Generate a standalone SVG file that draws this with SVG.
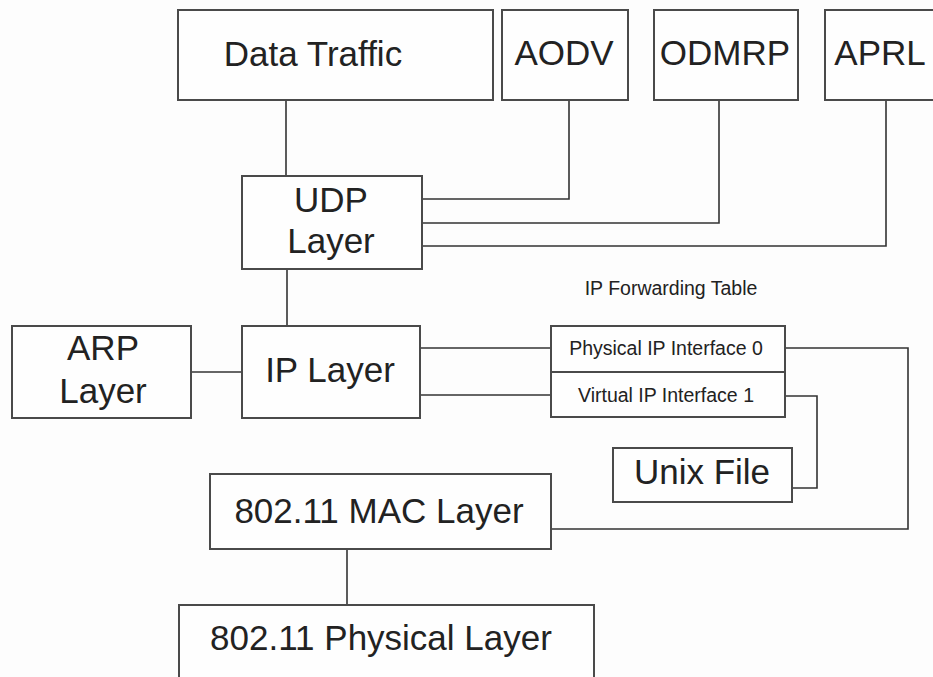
<svg xmlns="http://www.w3.org/2000/svg" width="933" height="677" viewBox="0 0 933 677">
<style>
.box{fill:#fefefe;stroke:#4a4a4a;stroke-width:2}
.ln{fill:none;stroke:#333;stroke-width:1.6}
text{font-family:"Liberation Sans",Arial,sans-serif;fill:#222;text-anchor:middle}
.big{font-size:35px}
.sm{font-size:19.5px}
</style>
<rect width="933" height="677" fill="#fdfdfd"/>
<g id="connectors">
<path class="ln" d="M286 100V176"/>
<path class="ln" d="M569 100V199H422"/>
<path class="ln" d="M719 100V223H422"/>
<path class="ln" d="M886 100V246H422"/>
<path class="ln" d="M287 269V326"/>
<path class="ln" d="M191 372H242"/>
<path class="ln" d="M420 348H551"/>
<path class="ln" d="M420 395H551"/>
<path class="ln" d="M785 348H908V529H551"/>
<path class="ln" d="M785 396H817V488H792"/>
<path class="ln" d="M347 549V605"/>
</g>
<g id="data-traffic"><rect class="box" x="178" y="10" width="315" height="90"/><text class="big" x="313" y="66">Data Traffic</text></g>
<g id="aodv"><rect class="box" x="502" y="10" width="126" height="90"/><text class="big" x="564" y="65">AODV</text></g>
<g id="odmrp"><rect class="box" x="654" y="10" width="144" height="90"/><text class="big" x="725" y="65">ODMRP</text></g>
<g id="aprl"><rect class="box" x="825" y="10" width="130" height="90"/><text class="big" x="880" y="65">APRL</text></g>
<g id="udp"><rect class="box" x="242" y="176" width="180" height="93"/><text class="big" x="331" y="212">UDP</text><text class="big" x="331" y="253">Layer</text></g>
<g id="arp"><rect class="box" x="12" y="326" width="179" height="92"/><text class="big" x="103" y="360">ARP</text><text class="big" x="103" y="403">Layer</text></g>
<g id="ip"><rect class="box" x="242" y="326" width="178" height="92"/><text class="big" x="330" y="382">IP Layer</text></g>
<g id="forwarding-table">
<text class="sm" x="671" y="295">IP Forwarding Table</text>
<rect class="box" x="551" y="326" width="234" height="91"/>
<path class="box" d="M551 372H785"/>
<text class="sm" x="666" y="355">Physical IP Interface 0</text>
<text class="sm" x="666" y="402">Virtual IP  Interface 1</text>
</g>
<g id="unix-file"><rect class="box" x="613" y="448" width="179" height="54"/><text class="big" x="702" y="484">Unix File</text></g>
<g id="mac"><rect class="box" x="210" y="474" width="341" height="75"/><text class="big" x="379" y="523">802.11 MAC Layer</text></g>
<g id="phy"><rect class="box" x="179" y="605" width="415" height="90"/><text class="big" x="381" y="650">802.11 Physical Layer</text></g>
</svg>
